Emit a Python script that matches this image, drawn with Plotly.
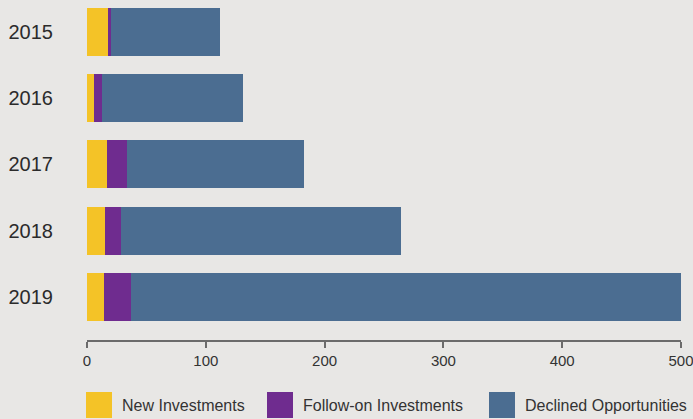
import plotly.graph_objects as go

years = ["2015", "2016", "2017", "2018", "2019"]
new_investments = [18, 6, 17, 15, 14]
follow_on = [2, 7, 17, 14, 23]
declined = [92, 118, 149, 235, 463]

series_names = ["New Investments", "Follow-on Investments", "Declined Opportunities"]
series_colors = ["#f4c327", "#6f2c8f", "#4b6d91"]
x_ticks = [0, 100, 200, 300, 400, 500]

BG = "#e8e7e5"
W, H = 693, 419
ML, MR, MT, MB = 87, 12, 0, 79
plot_w = W - ML - MR
plot_h = H - MT - MB

fig = go.Figure()
for name, vals, col in zip(series_names, [new_investments, follow_on, declined], series_colors):
    fig.add_trace(go.Bar(
        y=years, x=vals, name=name, orientation="h",
        marker=dict(color=col, line=dict(width=0)),
        width=0.725, showlegend=False, hoverinfo="x+name",
    ))

fig.update_layout(
    barmode="stack",
    width=W, height=H,
    margin=dict(l=ML, r=MR, t=MT, b=MB, pad=0),
    paper_bgcolor=BG, plot_bgcolor=BG,
    font=dict(family="Liberation Sans, Arial, sans-serif", color="#2b2b2b"),
    xaxis=dict(
        range=[0, 500], tickvals=x_ticks, showgrid=False, zeroline=False,
        showline=True, linecolor="#6b6b6b", linewidth=1.5,
        ticks="outside", ticklen=6, tickcolor="#6b6b6b", tickwidth=1.5,
        tickfont=dict(size=15, color="#333333"),
        ticklabeloverflow="allow",
    ),
    yaxis=dict(
        type="category", categoryorder="array", categoryarray=years,
        range=[4.65, -0.483], showgrid=False, zeroline=False, showline=False,
        ticks="", tickfont=dict(size=20, color="#2b2b2b"),
        ticklabelstandoff=33,
    ),
)

# Custom legend (large square swatches) in paper coordinates
def px_to_xpaper(px):
    return (px - ML) / plot_w

def py_to_ypaper(py):
    return (MT + plot_h - py) / plot_h

legend_sq_x = [86, 267, 489]
legend_sq_size = 26
legend_top = 392
for name, col, sx in zip(series_names, series_colors, legend_sq_x):
    fig.add_shape(
        type="rect", xref="paper", yref="paper",
        x0=px_to_xpaper(sx), x1=px_to_xpaper(sx + legend_sq_size),
        y0=py_to_ypaper(legend_top + legend_sq_size), y1=py_to_ypaper(legend_top),
        fillcolor=col, line=dict(width=0), layer="above",
    )
    fig.add_annotation(
        xref="paper", yref="paper",
        x=px_to_xpaper(sx + legend_sq_size + 8),
        y=py_to_ypaper(legend_top + legend_sq_size / 2),
        text=name, showarrow=False, xanchor="left", yanchor="middle",
        font=dict(size=16, color="#333333"),
    )

fig.write_html("out.html")
